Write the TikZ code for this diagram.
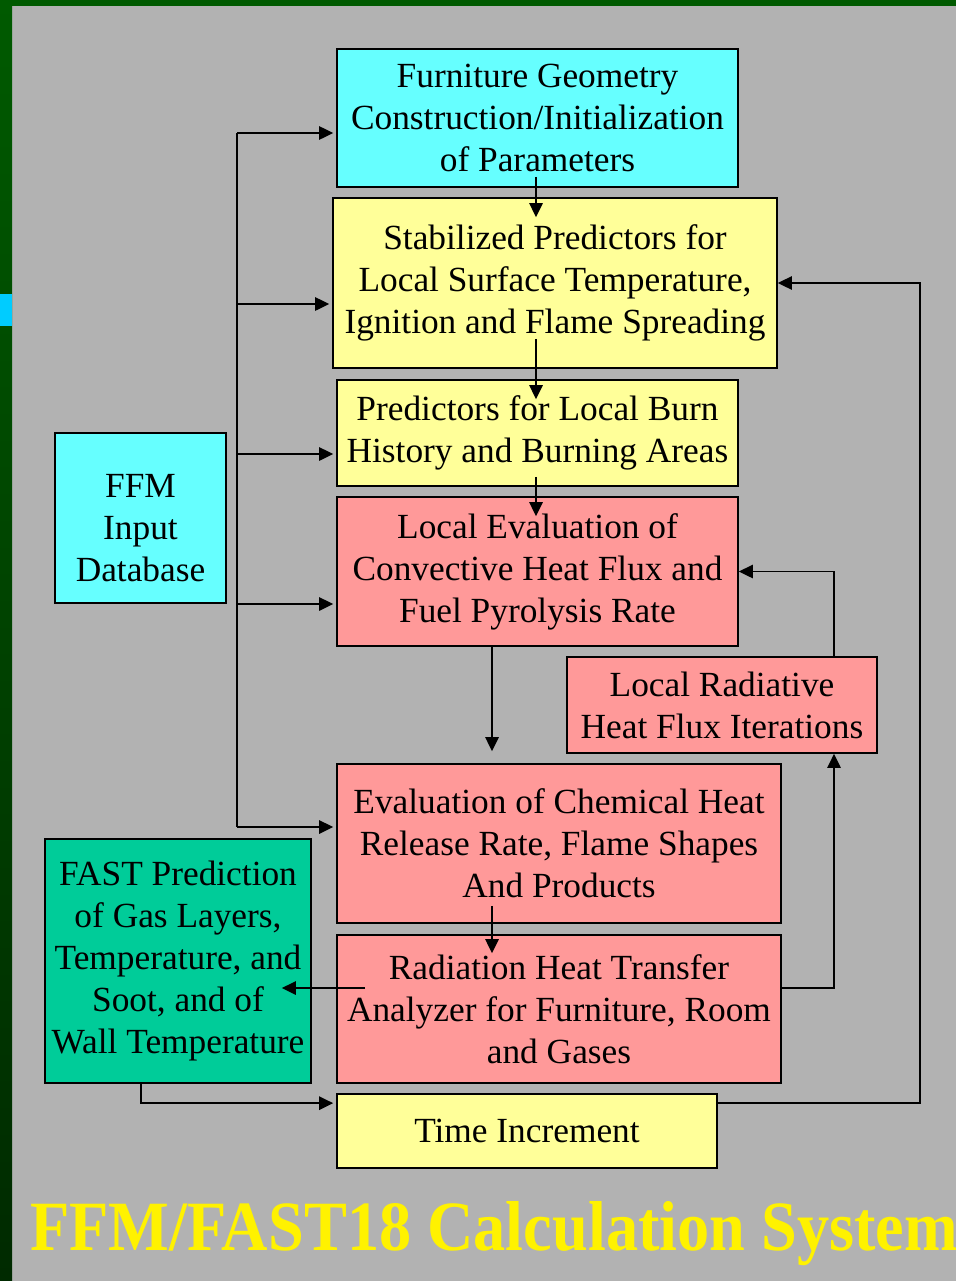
\documentclass[tikz,border=0pt]{standalone}
\usepackage{fontspec}
\setmainfont{Liberation Serif}
\usepackage{tikz}
\usetikzlibrary{arrows.meta, calc}
\usepackage{xcolor}

\definecolor{slide}{HTML}{B2B2B2}
\definecolor{leaf}{HTML}{005A00}
\definecolor{deepleaf}{HTML}{002A00}
\definecolor{skyband}{HTML}{00CCFF}
\definecolor{aqua}{HTML}{66FFFF}
\definecolor{cream}{HTML}{FFFF99}
\definecolor{salmon}{HTML}{FF9999}
\definecolor{sea}{HTML}{00CC99}

\newlength{\px}
\setlength{\px}{0.75pt}

\tikzset{
  box/.style={draw, line width=1.3pt, inner sep=0pt, align=center,
    font=\fontsize{26.5}{31.5}\selectfont},
  arr/.style={line width=1.4pt, -{Triangle[length=10.5pt, width=10pt]}}
}

\begin{document}
\begin{tikzpicture}[x=0.75pt, y=-0.75pt]
  % slide background
  \useasboundingbox (0,0) rectangle (956,1281);
  \fill[slide] (0,0) rectangle (956,1281);
  \fill[leaf] (0,0) rectangle (956,6);
  \shade[top color=leaf, bottom color=deepleaf] (0,0) rectangle (12,1281);
  \fill[skyband] (0,294) rectangle (12,326);

  \node[box, fill=aqua, minimum width=401\px, minimum height=138\px] (geom) at (537.5,118)
    {Furniture Geometry\\Construction/Initialization\\of Parameters};
  \node[box, fill=cream, minimum width=444\px, minimum height=170\px] (stab) at (555,283)
    {Stabilized Predictors for\\Local Surface Temperature,\\Ignition and Flame Spreading};
  \node[box, fill=cream, minimum width=401\px, minimum height=106\px] (burn) at (537.5,433)
    {Predictors for Local Burn\\History and Burning Areas};
  \node[box, fill=salmon, minimum width=401\px, minimum height=149\px] (conv) at (537.5,571.5)
    {Local Evaluation of\\Convective Heat Flux and\\Fuel Pyrolysis Rate};
  \node[box, fill=salmon, minimum width=310\px, minimum height=96\px] (radit) at (722,705)
    {Local Radiative\\Heat Flux Iterations};
  \node[box, fill=salmon, minimum width=444\px, minimum height=159\px] (chem) at (559,843.5)
    {Evaluation of Chemical Heat\\Release Rate, Flame Shapes\\And Products};
  \node[box, fill=salmon, minimum width=444\px, minimum height=148\px] (radht) at (559,1009)
    {Radiation Heat Transfer\\Analyzer for Furniture, Room\\and Gases};
  \node[box, fill=sea, minimum width=266\px, minimum height=244\px] (fast) at (178,961)
    {FAST Prediction\\of Gas Layers,\\Temperature, and\\Soot, and of\\Wall Temperature};
  \node[box, fill=cream, minimum width=380\px, minimum height=74\px] (time) at (527,1131)
    {Time Increment};
  \node[box, fill=aqua, minimum width=171\px, minimum height=170\px] (ffm) at (140.5,518)
    {\rule{0pt}{33pt}FFM\\Input\\Database};

  % input bus
  \coordinate (b1) at (237,133);
  \coordinate (b2) at (237,304);
  \coordinate (b3) at (237,454);
  \coordinate (b4) at (237,604);
  \coordinate (b5) at (237,827);
  \draw[line width=1.4pt] (b1) -- (b5);
  \foreach \b/\n in {b1/geom, b2/stab, b3/burn, b4/conv, b5/chem}
    \draw[arr] (\b) -- ($(\b -| \n.west)+(-3,0)$);

  % main chain
  \draw[arr] ($(geom.south)+(-1.5,-11)$) -- ($(geom.south |- stab.north)+(-1.5,20)$);
  \draw[arr] ($(burn.north |- stab.south)+(-1.5,-30)$) -- ($(burn.north)+(-1.5,20)$);
  \draw[arr] ($(burn.south)+(-1.5,-10)$) -- ($(conv.north)+(-1.5,20)$);
  \draw[arr] ($(conv.south)+(-45.5,0)$) -- ($(conv.south |- chem.north)+(-45.5,-12)$);
  \draw[arr] ($(chem.south)+(-67,-18)$) -- ($(chem.south |- radht.north)+(-67,19)$);
  \draw[arr] ($(radht.west)+(29,-21)$) -- ($(fast.east)+(-30,27)$);

  % feedback loops
  \draw[arr] ($(radht.east)+(0,-21)$) -| ($(radit.south)+(112,0)$);
  \draw[arr] ($(radit.north)+(112,0)$) |- (conv.east);
  \draw[arr] ($(time.north east)+(0,10)$) -- ++(202,0) |- (stab.east);
  \draw[arr] ($(fast.south)+(-37,0)$) |- ($(time.north west)+(-3,10)$);

  \node[anchor=base west, inner sep=0pt, text=yellow,
    font=\fontsize{53}{60}\selectfont\bfseries] (title) at (30,1250)
    {\scalebox{0.91}[1]{FFM/FAST18 Calculation System}};
\end{tikzpicture}
\end{document}
